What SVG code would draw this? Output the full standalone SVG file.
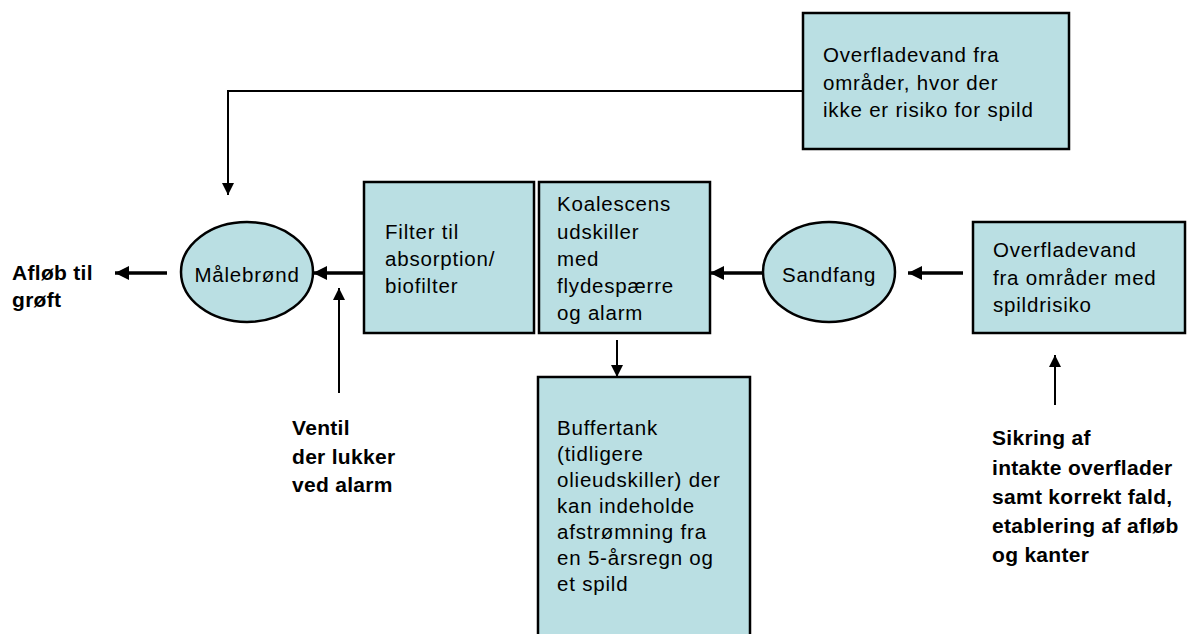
<svg xmlns="http://www.w3.org/2000/svg" width="1187" height="634" viewBox="0 0 1187 634">
<defs>
<style>
.box{fill:#BADFE3;stroke:#000;stroke-width:2.5}
.t{font-family:"Liberation Sans",Arial,sans-serif;font-size:20.5px;letter-spacing:0.8px;fill:#000}
.b{font-family:"Liberation Sans",Arial,sans-serif;font-size:21px;font-weight:bold;letter-spacing:0.3px;fill:#000}
.thin{stroke:#000;stroke-width:2;fill:none}
.thick{stroke:#000;stroke-width:3.5;fill:none}
</style>
<marker id="ah" viewBox="0 0 10 10" refX="10" refY="5" markerWidth="4" markerHeight="4" orient="auto" markerUnits="strokeWidth">
<path d="M0,0 L10,5 L0,10 z" fill="#000"/>
</marker>
<marker id="ahs" viewBox="0 0 10 10" refX="10" refY="5" markerWidth="7" markerHeight="6" orient="auto" markerUnits="strokeWidth">
<path d="M0,0 L10,5 L0,10 z" fill="#000"/>
</marker>
</defs>
<rect width="1187" height="634" fill="#fff"/>

<g id="connectors">
<polyline class="thin" points="803,91 228,91 228,195" marker-end="url(#ahs)"/>
<line class="thick" x1="167" y1="273" x2="115" y2="273" marker-end="url(#ah)"/>
<line class="thick" x1="364" y1="273" x2="313" y2="273" marker-end="url(#ah)"/>
<line class="thick" x1="763" y1="273" x2="710" y2="273" marker-end="url(#ah)"/>
<line class="thick" x1="963" y1="273" x2="908" y2="273" marker-end="url(#ah)"/>
<line class="thin" x1="617" y1="340" x2="617" y2="377" marker-end="url(#ahs)"/>
<line class="thin" x1="339" y1="393" x2="339" y2="288" marker-end="url(#ahs)"/>
<line class="thin" x1="1055" y1="405" x2="1055" y2="355" marker-end="url(#ahs)"/>
</g>

<g id="node-top">
<rect class="box" x="803" y="13" width="266" height="136"/>
<text class="t" x="823" y="62">Overfladevand fra</text>
<text class="t" x="823" y="90">områder, hvor der</text>
<text class="t" x="823" y="117">ikke er risiko for spild</text>
</g>

<g id="node-malebrond">
<ellipse class="box" cx="247" cy="272" rx="66" ry="50"/>
<text class="t" x="247" y="282" text-anchor="middle">Målebrønd</text>
</g>

<g id="node-filter">
<rect class="box" x="364" y="182" width="170" height="151"/>
<text class="t" x="385" y="239">Filter til</text>
<text class="t" x="385" y="266">absorption/</text>
<text class="t" x="385" y="293">biofilter</text>
</g>

<g id="node-koalescens">
<rect class="box" x="539" y="182" width="171" height="151"/>
<text class="t" x="557" y="211">Koalescens</text>
<text class="t" x="557" y="239">udskiller</text>
<text class="t" x="557" y="266">med</text>
<text class="t" x="557" y="293">flydespærre</text>
<text class="t" x="557" y="320">og alarm</text>
</g>

<g id="node-sandfang">
<ellipse class="box" cx="829" cy="272" rx="66" ry="50"/>
<text class="t" x="829" y="282" text-anchor="middle">Sandfang</text>
</g>

<g id="node-spildrisiko">
<rect class="box" x="973" y="222" width="212" height="111"/>
<text class="t" x="993" y="257">Overfladevand</text>
<text class="t" x="993" y="285">fra områder med</text>
<text class="t" x="993" y="312">spildrisiko</text>
</g>

<g id="node-buffertank">
<rect class="box" x="538" y="377" width="212" height="270"/>
<text class="t" x="557" y="435">Buffertank</text>
<text class="t" x="557" y="461">(tidligere</text>
<text class="t" x="557" y="487">olieudskiller) der</text>
<text class="t" x="557" y="513">kan indeholde</text>
<text class="t" x="557" y="539">afstrømning fra</text>
<text class="t" x="557" y="565">en 5-årsregn og</text>
<text class="t" x="557" y="591">et spild</text>
</g>

<g id="label-afloeb">
<text class="b" x="12" y="280">Afløb til</text>
<text class="b" x="12" y="307">grøft</text>
</g>

<g id="label-ventil">
<text class="b" x="292" y="435">Ventil</text>
<text class="b" x="292" y="464">der lukker</text>
<text class="b" x="292" y="492">ved alarm</text>
</g>

<g id="label-sikring">
<text class="b" x="992" y="445">Sikring af</text>
<text class="b" x="992" y="475">intakte overflader</text>
<text class="b" x="992" y="504">samt korrekt fald,</text>
<text class="b" x="992" y="533">etablering af afløb</text>
<text class="b" x="992" y="562">og kanter</text>
</g>
</svg>
